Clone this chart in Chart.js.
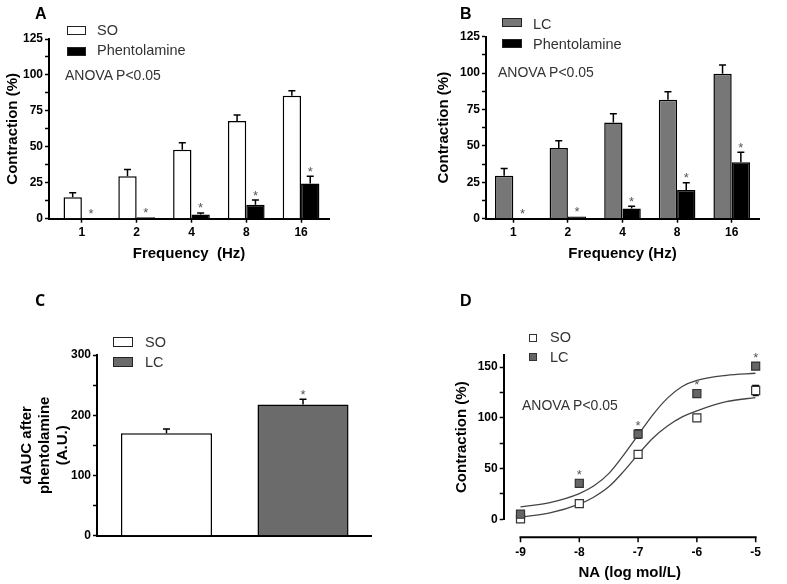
<!DOCTYPE html>
<html>
<head>
<meta charset="utf-8">
<script src="https://cdn.jsdelivr.net/npm/chart.js@4"></script>
<style>
  body { margin: 0; background: #fff; }
  #wrap { position: relative; width: 787px; height: 584px; overflow: hidden; }
  canvas { position: absolute; }
  .t { position: absolute; white-space: nowrap; line-height: 1; font-family: 'Liberation Sans', Arial, sans-serif; color: #333; font-size: 14.5px; }
  .letter { position: absolute; line-height: 1; font-family: 'Liberation Sans', Arial, sans-serif; font-weight: bold; font-size: 16px; color: #000; }
  .sw { position: absolute; box-sizing: border-box; border: 1.2px solid #222; }
</style>
</head>
<body>
<div id="wrap">
  <canvas id="chartA" width="400" height="290" style="left:0;top:0"></canvas>
  <canvas id="chartB" width="387" height="290" style="left:400px;top:0"></canvas>
  <canvas id="chartC" width="400" height="294" style="left:0;top:290px"></canvas>
  <canvas id="chartD" width="387" height="294" style="left:400px;top:290px"></canvas>

  <div class="letter" style="left:35px;top:5.5px">A</div>
  <div class="letter" style="left:460px;top:6px">B</div>
  <div class="letter" style="left:35px;top:292px;font-family:'Open Sans',sans-serif">C</div>
  <div class="letter" style="left:460px;top:293px">D</div>

  <!-- legend A -->
  <div class="sw" style="left:67px;top:26px;width:19px;height:8.5px;background:#fff"></div>
  <div class="t" style="left:97px;top:23.2px">SO</div>
  <div class="sw" style="left:67px;top:47px;width:19px;height:8.5px;background:#000"></div>
  <div class="t" style="left:97px;top:43.2px">Phentolamine</div>
  <div class="t" style="left:65px;top:68.4px;font-size:14px">ANOVA P&lt;0.05</div>

  <!-- legend B -->
  <div class="sw" style="left:502px;top:17.5px;width:20px;height:9px;background:#777"></div>
  <div class="t" style="left:533px;top:16.5px">LC</div>
  <div class="sw" style="left:502px;top:38.5px;width:20px;height:9px;background:#000"></div>
  <div class="t" style="left:533px;top:36.7px">Phentolamine</div>
  <div class="t" style="left:498px;top:65.4px;font-size:14px">ANOVA P&lt;0.05</div>

  <!-- legend C -->
  <div class="sw" style="left:113px;top:337px;width:20px;height:10px;background:#fff"></div>
  <div class="t" style="left:145px;top:334.9px">SO</div>
  <div class="sw" style="left:113px;top:357px;width:20px;height:10px;background:#6b6b6b"></div>
  <div class="t" style="left:145px;top:354.9px">LC</div>

  <!-- legend D -->
  <div class="sw" style="left:529px;top:333.5px;width:8px;height:8px;background:#fff;border-color:#333"></div>
  <div class="t" style="left:550px;top:330.2px">SO</div>
  <div class="sw" style="left:529px;top:352.5px;width:8px;height:8px;background:#666;border-color:#333"></div>
  <div class="t" style="left:550px;top:350.2px">LC</div>
  <div class="t" style="left:522px;top:398.4px;font-size:14px">ANOVA P&lt;0.05</div>
</div>

<script>
// panel A / B : contraction vs stimulation frequency
const freqLabels = ['1', '2', '4', '8', '16'];
const soContraction = [15, 29.5, 48, 68, 85.5];
const soContractionErr = [3, 4.8, 4.8, 4.2, 3.5];
const soPhentolamine = [0, 1, 3, 9.7, 24.5];
const soPhentolamineErr = [0, 0, 1, 3.3, 5];
const lcContraction = [29.5, 48.5, 66, 81.7, 99.5];
const lcContractionErr = [5, 5, 6, 5.5, 6];
const lcPhentolamine = [0, 1.5, 7, 19.7, 38.7];
const lcPhentolamineErr = [0, 0, 1.5, 5, 7];
const freqStars = [true, true, true, true, true];

// panel C : dAUC after phentolamine
const aucGroups = ['SO', 'LC'];
const aucValues = [170, 218];
const aucErr = [7, 8.5];
const aucStars = [false, true];

// panel D : NA concentration-response
const naLog = [-9, -8, -7, -6, -5];
const soNA = [0.5, 15.5, 64, 100, 127];
const soNAErr = [1, 2, 2, 3, 5];
const lcNA = [5, 35.5, 84, 124, 151];
const lcNAErr = [2, 3, 4, 2, 3];
const lcNAStars = [false, true, true, true, true];
// fitted curves
const fitX = [-9, -8.5, -8, -7.75, -7.5, -7.25, -7, -6.75, -6.5, -6.25, -6, -5.5, -5];
const soFit = [2.3, 6.3, 14.9, 22, 32, 47, 64, 80, 92, 101, 107, 116, 120];
const lcFit = [12.2, 16.5, 25.4, 33, 45, 63, 83, 103, 119.5, 131, 137, 142, 144];

Chart.defaults.font.family = "'Liberation Sans', Arial, sans-serif";
Chart.defaults.color = '#000';

const tickFont = { size: 12, weight: 'bold' };
const titleFont = { size: 15, weight: 'bold' };

const pts = (xs, ys) => ys.map((v, i) => ({ x: xs[i], y: v }));
const idx = (arr) => arr.map((_, i) => i + 1);

// error bars + asterisks
const marks = {
  id: 'marks',
  beforeDatasetsDraw(chart) {
    const ctx = chart.ctx, ys = chart.scales.y;
    chart.data.datasets.forEach((ds, i) => {
      if (!ds.errors) return;
      chart.getDatasetMeta(i).data.forEach((el, j) => {
        const v = ds.data[j].y, e = ds.errors[j];
        if (!e) return;
        const top = ys.getPixelForValue(v + e);
        ctx.save();
        ctx.strokeStyle = '#000';
        ctx.lineWidth = 1.5;
        ctx.beginPath();
        if (ds.bothWays) {
          const bot = ys.getPixelForValue(v - e);
          ctx.moveTo(el.x, bot); ctx.lineTo(el.x, top);
          ctx.moveTo(el.x - 3, bot); ctx.lineTo(el.x + 3, bot);
        } else {
          ctx.moveTo(el.x, el.y); ctx.lineTo(el.x, top);
        }
        ctx.moveTo(el.x - 3.5, top); ctx.lineTo(el.x + 3.5, top);
        ctx.stroke();
        ctx.restore();
      });
    });
  },
  afterDatasetsDraw(chart) {
    const ctx = chart.ctx, ys = chart.scales.y;
    chart.data.datasets.forEach((ds, i) => {
      if (!ds.stars) return;
      chart.getDatasetMeta(i).data.forEach((el, j) => {
        if (!ds.stars[j]) return;
        const v = ds.data[j].y, e = ds.errors ? ds.errors[j] : 0;
        let top = ys.getPixelForValue(v + e);
        if (ds.bothWays) top = Math.min(top, el.y - 4);
        ctx.save();
        ctx.fillStyle = '#555';
        ctx.font = "13px 'Liberation Sans', Arial, sans-serif";
        ctx.textAlign = 'center';
        ctx.textBaseline = 'alphabetic';
        ctx.fillText('*', el.x, top - 0.5);
        ctx.restore();
      });
    });
  }
};

// D has its x axis detached below the plot, spanning -9 .. -5 only
const offsetXAxis = {
  id: 'offsetXAxis',
  afterDraw(chart) {
    const xs = chart.scales.x, ctx = chart.ctx;
    const y = chart.chartArea.bottom + 18;
    ctx.save();
    ctx.strokeStyle = '#000';
    ctx.lineWidth = 2;
    ctx.beginPath();
    ctx.moveTo(xs.getPixelForValue(naLog[0]) - 1, y);
    ctx.lineTo(xs.getPixelForValue(naLog[naLog.length - 1]) + 1, y);
    ctx.stroke();
    ctx.lineWidth = 1.5;
    ctx.beginPath();
    xs.ticks.forEach(t => {
      const px = xs.getPixelForValue(t.value);
      ctx.moveTo(px, y); ctx.lineTo(px, y + 5);
    });
    ctx.stroke();
    ctx.restore();
  }
};

function yAxis(max, step, labelEvery, width, title, titlePad) {
  return {
    type: 'linear', min: 0, max: max,
    afterFit: s => { s.width = width; },
    border: { display: true, color: '#000', width: 2 },
    grid: { display: true, drawOnChartArea: false, drawTicks: true, tickLength: 4, tickWidth: 1.5, tickColor: '#000' },
    ticks: {
      stepSize: step, autoSkip: false, includeBounds: false, padding: 2, font: tickFont, color: '#000',
      callback: v => (v % labelEvery === 0 ? String(v) : '')
    },
    title: { display: true, text: title, font: titleFont, color: '#000', padding: titlePad }
  };
}

function freqChart(id, ctrlLabel, ctrl, ctrlErr, ctrlColor, phen, phenErr, area, xTitle) {
  const xs = idx(freqLabels);
  return new Chart(document.getElementById(id), {
    type: 'bar',
    data: {
      datasets: [
        { label: ctrlLabel, data: pts(xs, ctrl), errors: ctrlErr,
          backgroundColor: ctrlColor, borderColor: '#000', borderWidth: 1.5, borderSkipped: 'bottom',
          categoryPercentage: 0.67, barPercentage: 1 },
        { label: 'Phentolamine', data: pts(xs, phen), errors: phenErr, stars: freqStars,
          backgroundColor: '#000', borderColor: '#000', borderWidth: 1.5, borderSkipped: 'bottom',
          categoryPercentage: 0.67, barPercentage: 1 }
      ]
    },
    options: {
      responsive: false, animation: false,
      layout: { padding: area.padding },
      plugins: { legend: { display: false }, tooltip: { enabled: false } },
      scales: {
        x: {
          type: 'linear', min: area.xmin, max: area.xmax, offset: false,
          afterFit: s => { s.height = area.xh; },
          afterBuildTicks: s => { s.ticks = xs.map(v => ({ value: v })); },
          border: { display: true, color: '#000', width: 2 },
          grid: { display: true, offset: false, drawOnChartArea: false, drawTicks: true, tickLength: 4, tickWidth: 1.5, tickColor: '#000' },
          ticks: { autoSkip: false, padding: 3, font: tickFont, color: '#000', callback: v => freqLabels[v - 1] },
          title: { display: true, text: xTitle, font: titleFont, color: '#000', padding: { top: 0, bottom: 27 } }
        },
        y: yAxis(125, 12.5, 25, area.yw, 'Contraction (%)', { top: 3.5, bottom: 0 })
      }
    },
    plugins: [marks]
  });
}

freqChart('chartA', 'SO', soContraction, soContractionErr, '#fff', soPhentolamine, soPhentolamineErr,
  { padding: { left: 0, top: 39, right: 71, bottom: 0 }, yw: 49, xh: 71.3, xmin: 0.4, xmax: 5.51 },
  'Frequency  (Hz)');

freqChart('chartB', 'LC', lcContraction, lcContractionErr, '#777', lcPhentolamine, lcPhentolamineErr,
  { padding: { left: 31, top: 36.7, right: 28, bottom: 0 }, yw: 55, xh: 71.3, xmin: 0.5, xmax: 5.5 },
  'Frequency (Hz)');

// panel C
const aucX = idx(aucGroups);
new Chart(document.getElementById('chartC'), {
  type: 'bar',
  data: {
    datasets: [{
      label: 'dAUC', data: pts(aucX, aucValues), errors: aucErr, stars: aucStars,
      backgroundColor: ['#fff', '#6b6b6b'], borderColor: '#000', borderWidth: 1.5, borderSkipped: 'bottom',
      categoryPercentage: 0.667, barPercentage: 1
    }]
  },
  options: {
    responsive: false, animation: false,
    layout: { padding: { left: 0, top: 65, right: 29, bottom: 0 } },
    plugins: { legend: { display: false }, tooltip: { enabled: false } },
    scales: {
      x: {
        type: 'linear', min: 0.491, max: 2.498, offset: false,
        afterFit: s => { s.height = 48.3; },
        afterBuildTicks: s => { s.ticks = aucX.map(v => ({ value: v })); },
        border: { display: true, color: '#000', width: 2 },
        grid: { display: false, offset: false, drawTicks: false },
        ticks: { display: false }
      },
      y: yAxis(300, 50, 100, 97, ['dAUC after', 'phentolamine', '(A.U.)'], { top: 18.3, bottom: 0 })
    }
  },
  plugins: [marks]
});

// panel D
new Chart(document.getElementById('chartD'), {
  type: 'scatter',
  data: {
    datasets: [
      { label: 'LC', data: pts(naLog, lcNA), errors: lcNAErr, stars: lcNAStars, bothWays: true,
        pointStyle: 'rect', pointRadius: 5.7, backgroundColor: '#666', borderColor: '#333', borderWidth: 1.2, clip: false },
      { label: 'SO', data: pts(naLog, soNA), errors: soNAErr, bothWays: true,
        pointStyle: 'rect', pointRadius: 5.7, backgroundColor: '#fff', borderColor: '#333', borderWidth: 1.2, clip: false },
      { type: 'line', label: 'LC fit', data: pts(fitX, lcFit), showLine: true, pointRadius: 0,
        borderColor: '#444', borderWidth: 1.3, cubicInterpolationMode: 'monotone', fill: false },
      { type: 'line', label: 'SO fit', data: pts(fitX, soFit), showLine: true, pointRadius: 0,
        borderColor: '#444', borderWidth: 1.3, cubicInterpolationMode: 'monotone', fill: false }
    ]
  },
  options: {
    responsive: false, animation: false,
    layout: { padding: { left: 49.2, top: 65, right: 9.3, bottom: 0 } },
    plugins: { legend: { display: false }, tooltip: { enabled: false } },
    scales: {
      x: {
        type: 'linear', min: -9.286, max: -5,
        afterFit: s => { s.height = 64.7; },
        afterBuildTicks: s => { s.ticks = naLog.map(v => ({ value: v })); },
        border: { display: false },
        grid: { display: false, drawTicks: false },
        ticks: { autoSkip: false, padding: 26, font: tickFont, color: '#000', callback: v => String(v) },
        title: { display: true, text: 'NA (log mol/L)', font: titleFont, color: '#000', padding: { top: 0, bottom: 1.7 } }
      },
      y: yAxis(162, 25, 50, 54.5, 'Contraction (%)', { top: 3.5, bottom: 0 })
    }
  },
  plugins: [marks, offsetXAxis]
});
</script>
</body>
</html>
